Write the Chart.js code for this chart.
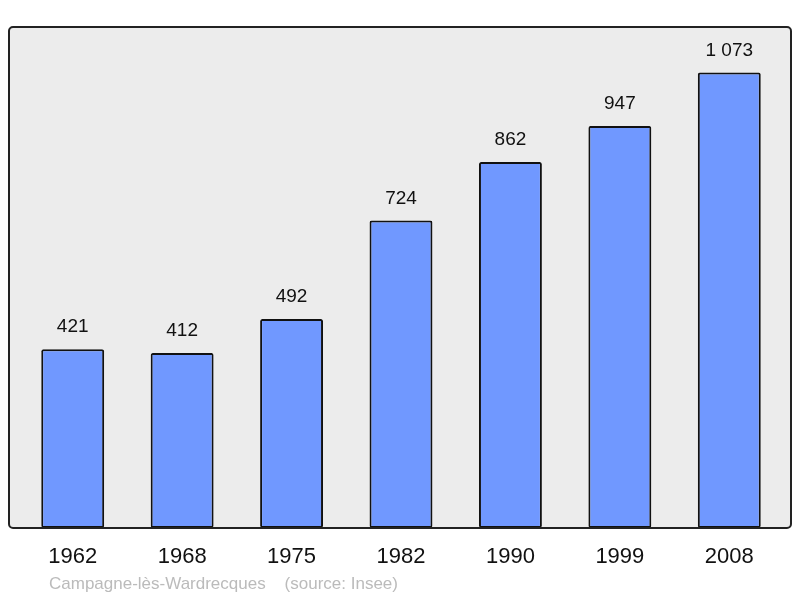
<!DOCTYPE html>
<html>
<head>
<meta charset="utf-8">
<script src="https://cdn.jsdelivr.net/npm/chart.js@4/dist/chart.umd.min.js"></script>
<style>
  html, body { margin: 0; padding: 0; background: #fff; }
  canvas { display: block; }
</style>
</head>
<body>
<canvas id="popChart" width="800" height="598"></canvas>
<script>
  // Population by census year
  const years = ["1962", "1968", "1975", "1982", "1990", "1999", "2008"];
  const population = [421, 412, 492, 724, 862, 947, 1073];
  const valueLabels = ["421", "412", "492", "724", "862", "947", "1 073"];
  const sourceText = "Campagne-lès-Wardrecques    (source: Insee)";

  const colors = {
    bar: '#7098ff',
    outline: '#111',
    plotBg: '#ececec',
    frame: '#222',
    source: '#bbbbbb'
  };

  // Gray rounded frame behind the bars, value labels, source line
  const framePlugin = {
    id: 'frame',
    beforeDatasetsDraw(chart) {
      const ctx = chart.ctx;
      ctx.save();
      ctx.beginPath();
      ctx.roundRect(9, 27, 782, 501, 4);
      ctx.fillStyle = colors.plotBg;
      ctx.fill();
      ctx.restore();
    },
    afterDatasetsDraw(chart) {
      const ctx = chart.ctx;
      ctx.save();
      ctx.beginPath();
      ctx.roundRect(9, 27, 782, 501, 4);
      ctx.lineWidth = 2;
      ctx.strokeStyle = colors.frame;
      ctx.stroke();

      const meta = chart.getDatasetMeta(0);
      ctx.fillStyle = '#111';
      ctx.font = '19px "Liberation Sans", Arial, sans-serif';
      ctx.textAlign = 'center';
      ctx.textBaseline = 'middle';
      meta.data.forEach((bar, i) => {
        ctx.fillText(valueLabels[i], bar.x, bar.y - 22);
      });

      ctx.fillStyle = colors.source;
      ctx.font = '17px "Liberation Sans", Arial, sans-serif';
      ctx.textAlign = 'left';
      ctx.fillText(sourceText, 49, 584);
      ctx.restore();
    }
  };

  new Chart(document.getElementById('popChart').getContext('2d'), {
    type: 'bar',
    data: {
      labels: years,
      datasets: [{
        data: population,
        backgroundColor: colors.bar,
        borderColor: colors.outline,
        borderWidth: 2,
        borderSkipped: false,
        borderRadius: 2,
        barPercentage: 0.575,
        categoryPercentage: 1
      }]
    },
    options: {
      responsive: false,
      animation: false,
      layout: { padding: { left: 18, right: 16, top: 27, bottom: 20 } },
      plugins: {
        legend: { display: false },
        tooltip: { enabled: false }
      },
      scales: {
        x: {
          grid: { display: false, drawTicks: false },
          border: { display: false },
          ticks: {
            color: '#111',
            padding: 16,
            font: { family: '"Liberation Sans", Arial, sans-serif', size: 22 }
          },
          afterFit: s => { s.height = 50; }
        },
        y: {
          display: false,
          min: 0,
          max: 1180
        }
      }
    },
    plugins: [framePlugin]
  });
</script>
</body>
</html>
